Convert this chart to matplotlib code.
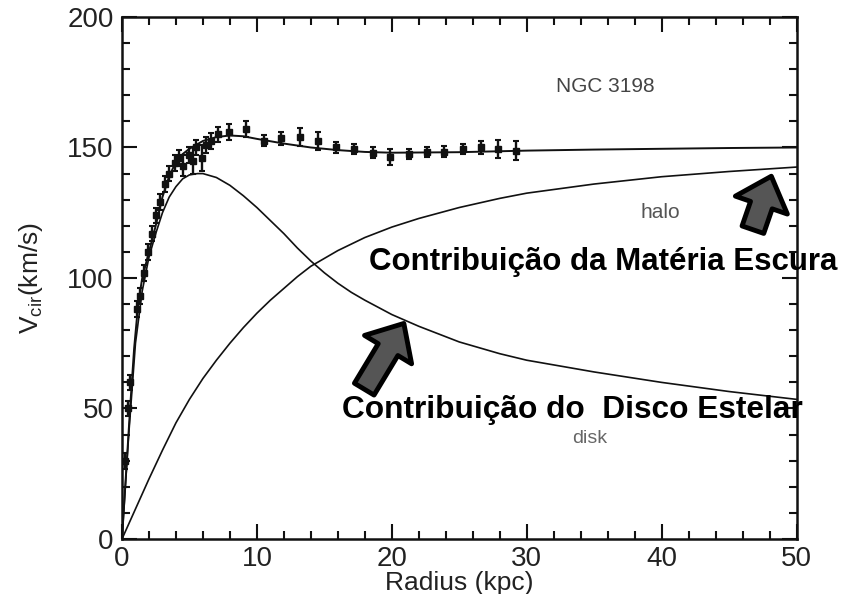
import matplotlib
matplotlib.use("Agg")
import matplotlib.pyplot as plt
from matplotlib.patches import FancyArrowPatch
from matplotlib.ticker import MultipleLocator
import numpy as np

plt.rcParams['font.family'] = ['Liberation Sans', 'DejaVu Sans']

# observed rotation velocities (kpc, km/s)
r_obs = [0.25, 0.45, 0.6, 1.1, 1.3, 1.6, 1.9, 2.2, 2.5, 2.8, 3.2, 3.5, 3.9,
         4.2, 4.5, 5.0, 5.3, 5.5, 5.9, 6.2, 6.6, 7.1, 7.9, 9.2,
         10.5, 11.8, 13.2, 14.5, 15.9, 17.2, 18.6, 19.9, 21.3, 22.6,
         23.9, 25.3, 26.6, 27.9, 29.2]
v_obs = [30, 50, 60, 88, 93, 102, 110, 117, 124, 129, 136, 140, 144,
         146, 143, 147, 145, 150, 146, 151, 152.5, 155, 156, 157,
         152.6, 153.5, 154, 152.6, 150, 149.5, 148, 146.3, 147.5, 148.2,
         148.4, 149.5, 150, 149.5, 148.8]
v_err = [3, 3, 3, 3, 3, 3, 3, 3, 3, 3, 3, 3, 3,
         3, 4, 3, 5, 3, 5, 3, 3, 3, 3, 3,
         2, 2.5, 3.5, 3.5, 2, 2, 2, 3, 2, 2,
         2, 2, 2.5, 3.5, 3.5]

# total fit
r_tot = [0, 0.3, 0.6, 0.9, 1.2, 1.5, 2.0, 2.5, 3.0, 3.5, 4.0, 4.5, 5.0, 6.0,
         7.0, 8.0, 9.0, 10.0, 12.0, 14.0, 16.0, 18.0, 20.0, 25.0, 30.0,
         35.0, 40.0, 45.0, 50.0]
v_tot = [0, 25, 50, 73, 90, 100, 110, 120, 131, 139, 144.5, 147.5, 149.5, 152.5,
         154, 154.6, 154.3, 153.3, 151.5, 150, 149, 148.3, 148, 148.2, 148.8,
         149.2, 149.5, 149.8, 150]

# stellar disk
r_disk = [0, 0.5, 1.0, 1.5, 2.0, 2.5, 3.0, 3.5, 4.0, 4.5, 5.0, 5.6, 6.0, 7.0,
          8.0, 9.0, 10.0, 11.0, 12.0, 13.0, 14.0, 15.0, 16.0, 17.0, 18.0,
          20.0, 22.0, 25.0, 28.0, 30.0, 35.0, 40.0, 45.0, 50.0]
v_disk = [0, 40, 75, 95, 108, 117, 125, 131, 135, 138, 139.5, 140, 140, 138.5,
          135.5, 131.5, 127, 122, 117, 111.5, 106.5, 102, 98, 94.5, 91.5,
          86, 81.5, 75.5, 71, 68.5, 64, 60, 56.5, 53.5]

# dark halo
r_halo = [0, 1, 2, 3, 4, 5, 6, 7, 8, 9, 10, 11, 12, 13, 14, 16, 18, 20, 22,
          25, 28, 30, 35, 40, 45, 50]
v_halo = [0, 11.5, 23, 34, 44.5, 53.5, 61.5, 68.5, 75, 81, 86.5, 91.5, 96,
          100.5, 104.5, 110.5, 115.5, 119.5, 122.8, 127, 130.5, 132.5, 136,
          138.8, 140.8, 142.5]

fig = plt.figure(figsize=(8.56, 5.94), dpi=100)
ax = fig.add_axes([0.1425, 0.0926, 0.788, 0.8788])

ax.plot(r_tot, v_tot, color='#111111', lw=1.4)
ax.plot(r_disk, v_disk, color='#111111', lw=1.2)
ax.plot(r_halo, v_halo, color='#111111', lw=1.2)
ax.errorbar(r_obs, v_obs, yerr=v_err, fmt='s', ms=5, color='#111111',
            ecolor='#111111', elinewidth=1.7, capsize=2, capthick=1.5)

ax.set_xlim(0, 50)
ax.set_ylim(0, 200)
ax.xaxis.set_major_locator(MultipleLocator(10))
ax.xaxis.set_minor_locator(MultipleLocator(2))
ax.yaxis.set_major_locator(MultipleLocator(50))
ax.yaxis.set_minor_locator(MultipleLocator(10))
ax.tick_params(which='both', direction='in', top=True, right=True,
               width=1.5, color='#111111', labelsize=20, labelcolor='#222222')
ax.tick_params(which='major', length=11)
ax.tick_params(which='minor', length=6)
ax.tick_params(axis='y', which='major', pad=6)
ax.tick_params(axis='x', which='major', pad=5)
for s in ax.spines.values():
    s.set_linewidth(1.8)
    s.set_color('#111111')

ax.set_xlabel('Radius (kpc)', fontsize=19, color='#222222', labelpad=-1)
ax.set_ylabel(r'V$_{\mathregular{cir}}$(km/s)', fontsize=19, color='#222222',
              labelpad=16)

ax.text(35.8, 173.5, 'NGC 3198', fontsize=15, color='#444444',
        ha='center', va='center')
ax.text(39.9, 125, 'halo', fontsize=15, color='#555555',
        ha='center', va='center')
ax.text(34.7, 38.5, 'disk', fontsize=14, color='#666666',
        ha='center', va='center')

# block arrows pointing at the curves
arrow_style = 'simple,head_width=1.8,head_length=1.0,tail_width=0.75'
for tail, tip in [((17.85, 56.5), (21.0, 83.5)), ((46.7, 117.5), (48.2, 140.0))]:
    ax.add_patch(FancyArrowPatch(tail, tip, arrowstyle=arrow_style,
                                 mutation_scale=22, facecolor='#555555',
                                 edgecolor='black', lw=3.5, zorder=5))

ax.text(18.3, 106, 'Contribuição da Matéria Escura', fontsize=22.5,
        fontweight='bold', color='black', ha='left', va='center', zorder=6,
        clip_on=False)
ax.text(16.3, 49.5, 'Contribuição do  Disco Estelar', fontsize=22.8,
        fontweight='bold', color='black', ha='left', va='center', zorder=6,
        clip_on=False)

fig.savefig('out.png', dpi=100)
